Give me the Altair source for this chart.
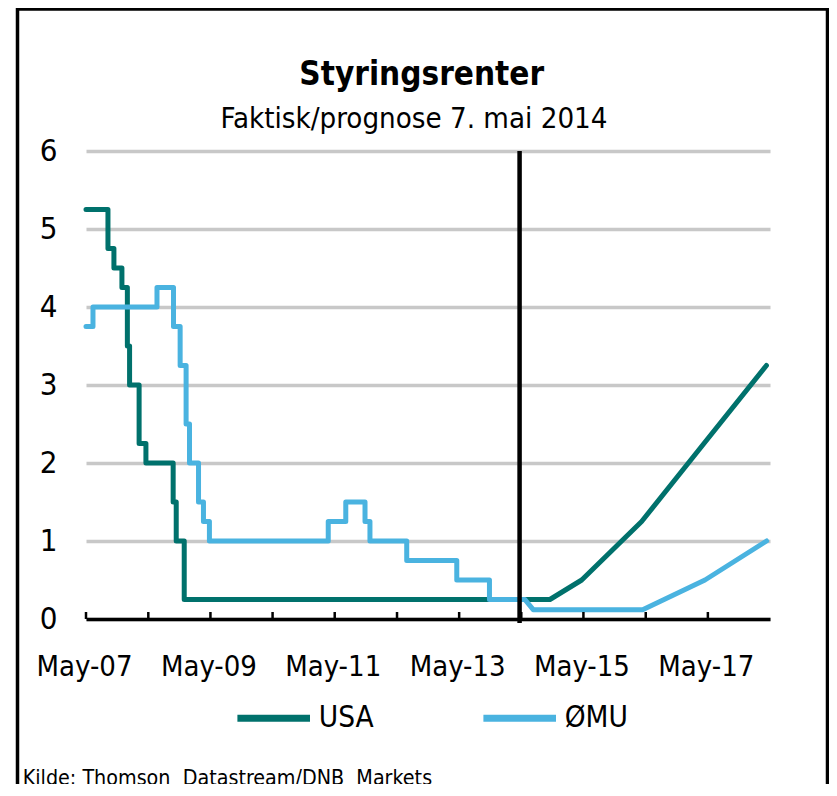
import altair as alt
import pandas as pd

FONT = "DejaVu Sans Condensed, DejaVu Sans, sans-serif"

# ---- data ----
usa_hist_dates = ["2007-05-01", "2007-09-07", "2007-10-12", "2007-11-28", "2007-12-30",
                  "2008-01-12", "2008-03-08", "2008-04-17", "2008-09-24", "2008-10-12",
                  "2008-11-28", "2014-05-01"]
usa_hist_vals = [5.25, 4.75, 4.5, 4.25, 3.5, 3.0, 2.25, 2.0, 1.5, 1.0, 0.25, 0.25]

emu_hist_dates = ["2007-05-01", "2007-06-11", "2008-06-21", "2008-09-26", "2008-11-04",
                  "2008-12-09", "2008-12-29", "2009-02-20", "2009-03-21", "2009-04-25",
                  "2011-03-24", "2011-07-05", "2011-10-26", "2011-11-24", "2012-06-27",
                  "2013-04-17", "2013-10-26", "2014-05-01"]
emu_hist_vals = [3.75, 4.0, 4.25, 3.75, 3.25, 2.5, 2.0, 1.5, 1.25, 1.0,
                 1.25, 1.5, 1.25, 1.0, 0.75, 0.5, 0.25, 0.25]

usa_fc_dates = ["2014-05-01", "2014-10-16", "2015-04-21", "2016-04-07", "2017-04-08", "2018-04-10"]
usa_fc_vals = [0.25, 0.25, 0.5, 1.25, 2.25, 3.25]

emu_fc_dates = ["2014-05-01", "2014-05-22", "2014-07-10", "2016-04-13", "2017-04-14", "2018-04-11"]
emu_fc_vals = [0.25, 0.25, 0.12, 0.12, 0.5, 1.0]

forecast_date = ["2014-04-21"]
tick_years = list(range(2007, 2018))
label_years = [2007, 2009, 2011, 2013, 2015, 2017]
y_ticks = [0, 1, 2, 3, 4, 5, 6]
series_names = ["USA", "ØMU"]
series_colors = ["#00716c", "#4ab3e0"]

title_text = "Styringsrenter"
subtitle_text = "Faktisk/prognose 7. mai 2014"
source_text = "Kilde: Thomson\u00a0 Datastream/DNB\u00a0 Markets"

# ---- tables ----
df_usa_h = pd.DataFrame({"date": usa_hist_dates, "rate": usa_hist_vals, "series": "USA"})
df_emu_h = pd.DataFrame({"date": emu_hist_dates, "rate": emu_hist_vals, "series": "ØMU"})
df_usa_f = pd.DataFrame({"date": usa_fc_dates, "rate": usa_fc_vals, "series": "USA"})
df_emu_f = pd.DataFrame({"date": emu_fc_dates, "rate": emu_fc_vals, "series": "ØMU"})
df_ticks = pd.DataFrame({"date": [f"{y}-05-01" for y in tick_years]})
df_vline = pd.DataFrame({"date": forecast_date})
df_one = pd.DataFrame({"k": [0]})

x_scale = alt.Scale(type="utc", domain=[alt.DateTime(year=2007, month=5, date=1, utc=True),
                                        alt.DateTime(year=2018, month=5, date=1, utc=True)])

x_enc = alt.X("date:T", scale=x_scale, axis=alt.Axis(
    values=[alt.DateTime(year=y, month=5, date=1, utc=True) for y in label_years],
    labelExpr="utcFormat(datum.value, '%b-%y')",
    title=None, grid=False, ticks=False, tickSize=0,
    domainColor="black", domainWidth=3.5,
    labelFont=FONT, labelFontSize=29, labelColor="black",
    labelPadding=33, labelOffset=-2, labelFlush=False, labelOverlap=False))

y_enc = alt.Y("rate:Q", scale=alt.Scale(domain=[0, 6]), axis=alt.Axis(
    values=y_ticks, format="d", title=None, grid=True, gridColor="#c8c8c8", gridWidth=3.5,
    domain=False, ticks=False, labelFont=FONT, labelFontSize=31, labelColor="black",
    labelPadding=29))

color_enc = alt.Color("series:N", scale=alt.Scale(domain=series_names, range=series_colors),
                      legend=alt.Legend(title=None, orient="none", legendX=147.7, legendY=527,
                                        direction="horizontal", symbolType="stroke",
                                        symbolSize=5270, symbolStrokeWidth=7,
                                        labelFont=FONT, labelFontSize=29.5, labelColor="black",
                                        labelOffset=5, columnPadding=95, padding=0))

line_kw = dict(strokeWidth=5, strokeCap="round", strokeJoin="round")

usa_h = alt.Chart(df_usa_h).mark_line(interpolate="step-after", **line_kw).encode(
    x=x_enc, y=y_enc, color=color_enc)
usa_f = alt.Chart(df_usa_f).mark_line(**line_kw).encode(
    x=alt.X("date:T", scale=x_scale), y="rate:Q", color=color_enc)
emu_h = alt.Chart(df_emu_h).mark_line(interpolate="step-after", **line_kw).encode(
    x=alt.X("date:T", scale=x_scale), y="rate:Q", color=color_enc)
emu_f = alt.Chart(df_emu_f).mark_line(**line_kw).encode(
    x=alt.X("date:T", scale=x_scale), y="rate:Q", color=color_enc)

ticks = alt.Chart(df_ticks).mark_rule(color="black", strokeWidth=2.5).encode(
    x=alt.X("date:T", scale=x_scale), y=alt.value(461), y2=alt.value(468))

vline = alt.Chart(df_vline).mark_rule(color="black", strokeWidth=4.5).encode(
    x=alt.X("date:T", scale=x_scale), y=alt.datum(6), y2=alt.value(472))

frame = alt.Chart(df_one).mark_rect(fillOpacity=0, stroke="black", strokeWidth=3.5).encode(
    x=alt.value(-68.5), x2=alt.value(741.5), y=alt.value(-142), y2=alt.value(649))

title = alt.Chart(df_one).mark_text(align="center", baseline="alphabetic", font=FONT,
                                    fontSize=33, fontWeight="bold", color="black").encode(
    x=alt.value(335.7), y=alt.value(-66), text=alt.value(title_text))

subtitle = alt.Chart(df_one).mark_text(align="center", baseline="alphabetic", font=FONT,
                                       fontSize=29.2, color="black").encode(
    x=alt.value(328), y=alt.value(-23), text=alt.value(subtitle_text))

source = alt.Chart(df_one).mark_text(align="left", baseline="alphabetic", font=FONT,
                                     fontSize=21.3, color="black").encode(
    x=alt.value(-63.3), y=alt.value(633.5), text=alt.value(source_text))

chart = alt.layer(frame, usa_h, usa_f, emu_h, emu_f, ticks, vline,
                  title, subtitle, source).properties(
    width=684, height=468,
    padding={"left": 78, "top": 143, "right": 59, "bottom": 165},
    autosize=alt.AutoSizeParams(type="none"),
    background="white",
).configure_view(strokeWidth=0)

chart.save("out.html", embed_options={"renderer": "svg", "actions": False})
